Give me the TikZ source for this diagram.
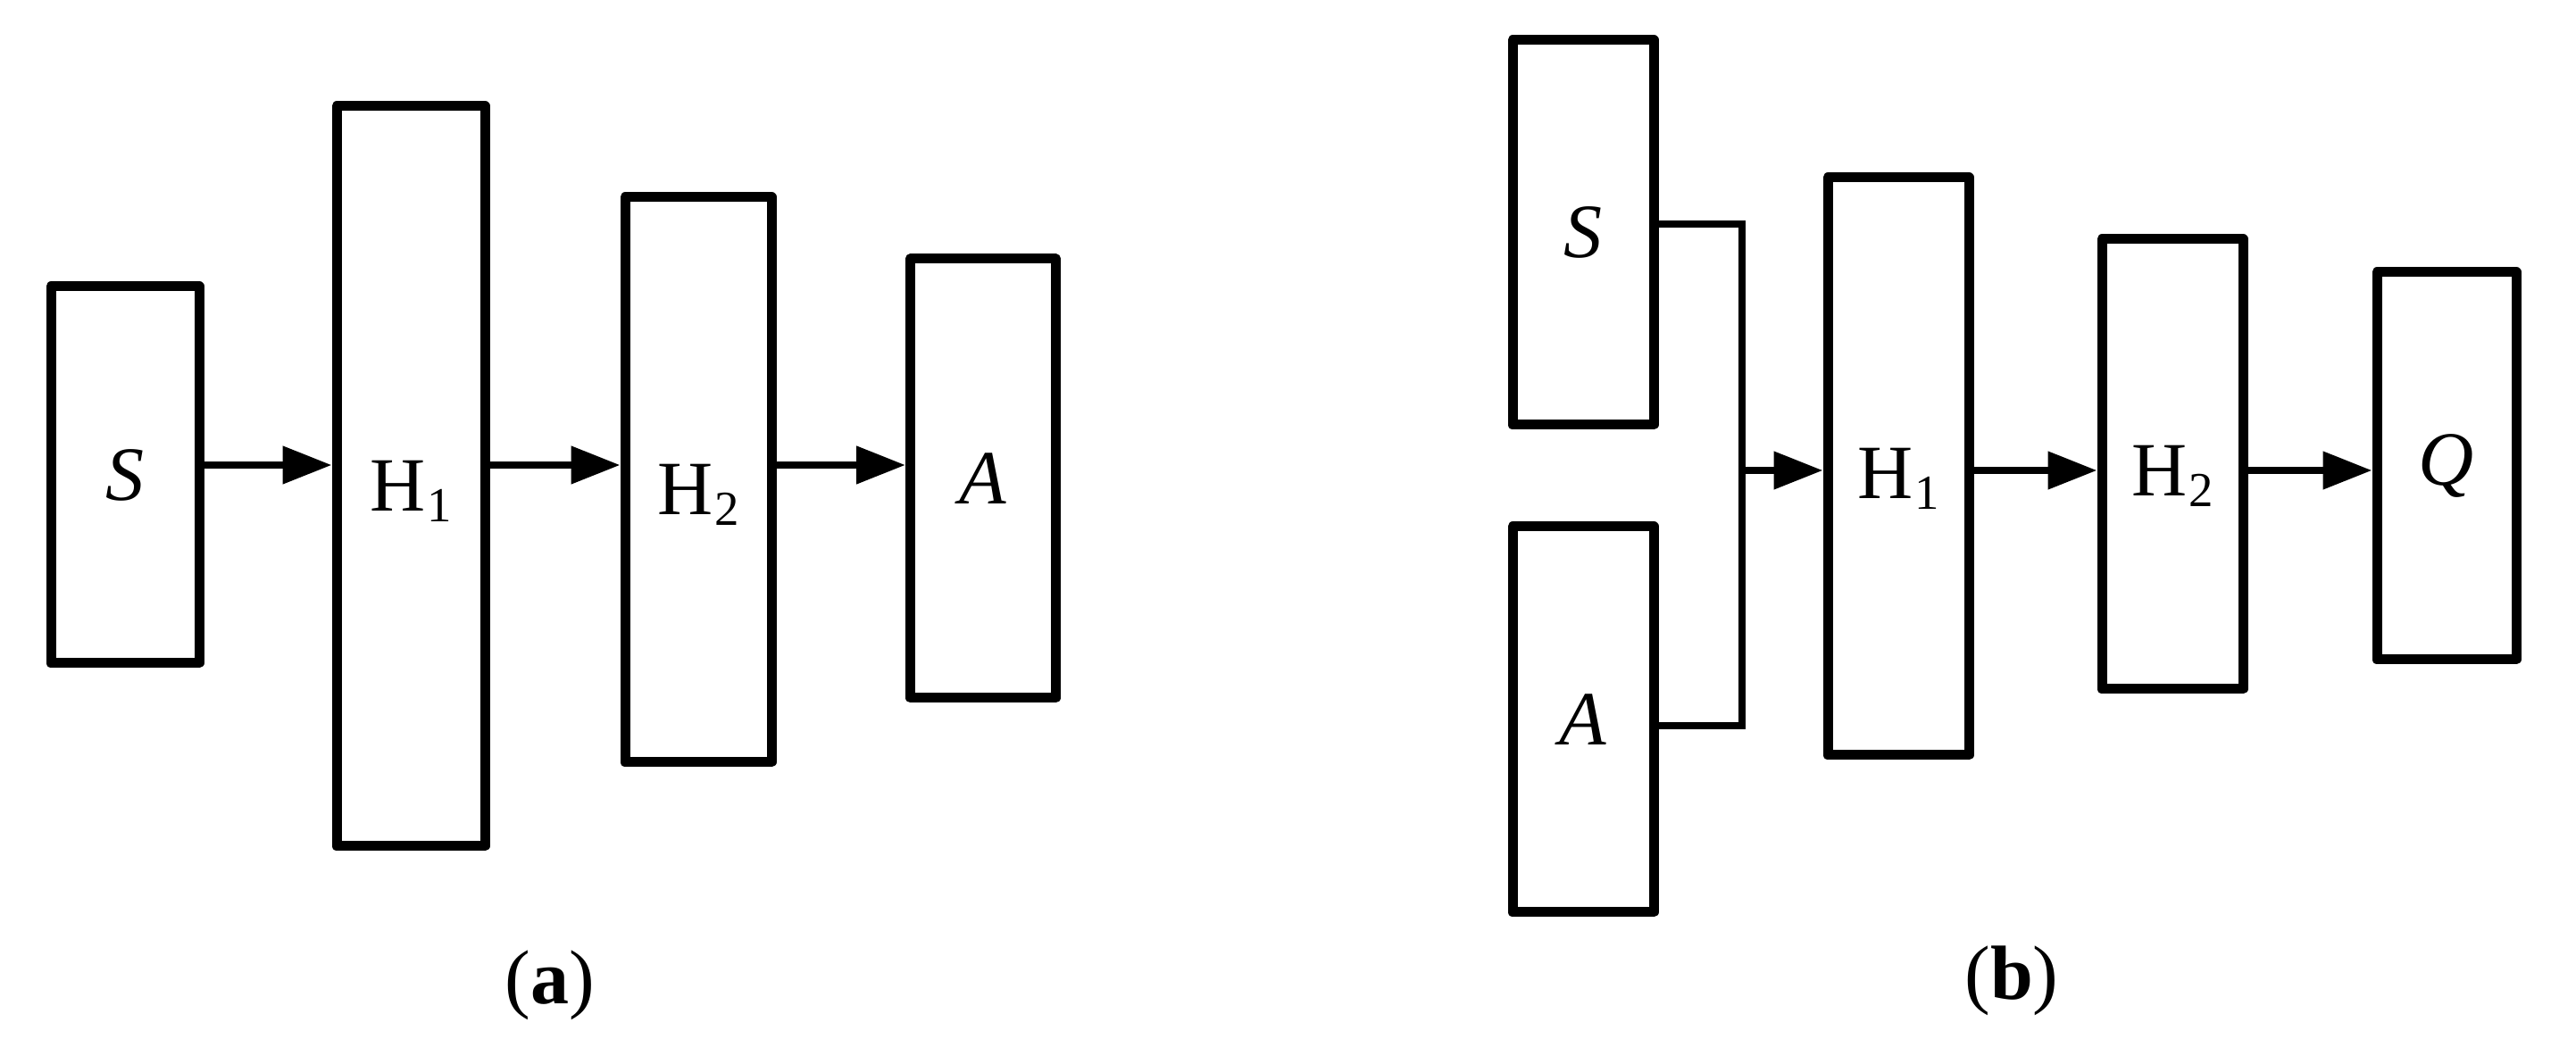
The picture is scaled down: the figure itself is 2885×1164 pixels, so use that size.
\documentclass[tikz,border=0pt]{standalone}
\usepackage{fontspec}
\setmainfont{Liberation Serif}
\usetikzlibrary{arrows.meta}
\newcommand\Hsub[1]{H\kern0.4pt\raisebox{-3pt}{\fontsize{13.7pt}{14pt}\selectfont #1}}
\begin{document}
\begin{tikzpicture}[x=0.25pt,y=-0.25pt,
  every node/.style={font=\fontsize{21.5pt}{26pt}\selectfont},
  blk/.style={draw,line width=2.75pt,line join=round,inner sep=0pt,outer sep=1.375pt},
  bx/.style 2 args={minimum width=#1*0.25pt,minimum height=#2*0.25pt},
  hl/.style={text height=#1,text depth=0pt},
  arr/.style={line width=2pt,-{Triangle[length=13.75pt,width=10.25pt]}},
  conn/.style={line width=1.9pt}]
\useasboundingbox (0,0) rectangle (2885,1164);
% (a)
\node[blk,bx={166}{422}] (Sa)  at (140,532)   {\textit{S}};
\node[blk,bx={166}{829},hl=19.5pt] (H1a) at (460,533.5) {\Hsub{1}};
\node[blk,bx={164}{633},hl=19.5pt] (H2a) at (782,537.5) {\Hsub{2}};
\node[blk,bx={163}{492}] (Aa)  at (1101,536)  {\textit{A}};
\coordinate (ya) at (0,521);
\draw[arr] (Sa.east |- ya) -- (H1a.west |- ya);
\draw[arr] (H1a.east |- ya) -- (H2a.west |- ya);
\draw[arr] (H2a.east |- ya) -- (Aa.west |- ya);
\node (la) at (616,1104) {(\textbf{a})};
% (b)
\node[blk,bx={158}{431}] (Sb)  at (1773,260.5) {\textit{S}};
\node[blk,bx={158}{432}] (Ab)  at (1773,806)   {\textit{A}};
\node[blk,bx={158}{647},hl=18pt] (H1b) at (2126,522.5) {\Hsub{1}};
\node[blk,bx={158}{504},hl=18pt] (H2b) at (2433,520)   {\Hsub{2}};
\node[blk,bx={156}{434}] (Qb)  at (2740,522)   {\textit{Q}};
\coordinate (jt) at (1951,251);
\coordinate (jb) at (1951,813);
\coordinate (jm) at (1951,527);
\draw[conn] (Sb.east |- jt) -- (jt) -- (jb) -- (Ab.east |- jb);
\draw[arr] (jm) -- (H1b.west |- jm);
\draw[arr] (H1b.east |- jm) -- (H2b.west |- jm);
\draw[arr] (H2b.east |- jm) -- (Qb.west |- jm);
\node (lb) at (2253,1099) {(\textbf{b})};
\end{tikzpicture}
\end{document}
